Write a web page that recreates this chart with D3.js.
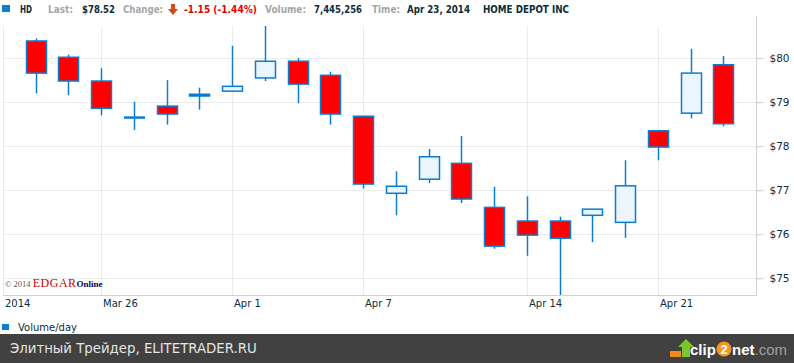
<!DOCTYPE html>
<html>
<head>
<meta charset="utf-8">
<script src="https://cdn.jsdelivr.net/npm/d3@7"></script>
<style>
  body { margin: 0; background: #fff; }
  svg { display: block; }
</style>
</head>
<body>
<div id="chart"></div>
<script>
// daily candles, HD, Mar 24 - Apr 23 2014 (no trading Apr 18)
const dates = ["Mar 24", "Mar 25", "Mar 26", "Mar 27", "Mar 28", "Mar 31", "Apr 1", "Apr 2", "Apr 3", "Apr 4",
    "Apr 7", "Apr 8", "Apr 9", "Apr 10", "Apr 11", "Apr 14", "Apr 15", "Apr 16", "Apr 17", "Apr 21", "Apr 22", "Apr 23"];
const open  = [80.39, 80.02, 79.48, 78.65, 78.91, 79.18, 79.25, 79.55, 79.93, 79.61,
    78.68, 76.93, 77.25, 77.61, 76.61, 76.30, 76.30, 76.43, 76.27, 78.35, 78.75, 79.85];
const high  = [80.45, 80.08, 79.77, 79.01, 79.50, 79.33, 80.28, 80.80, 80.00, 79.69,
    78.68, 77.43, 77.94, 78.23, 77.08, 76.86, 76.40, 76.57, 77.68, 78.35, 80.21, 80.05];
const low   = [79.20, 79.16, 78.70, 78.37, 78.49, 78.83, 79.25, 79.48, 78.98, 78.49,
    77.04, 76.43, 77.16, 76.71, 75.67, 75.51, 74.50, 75.82, 75.92, 77.68, 78.63, 78.45];
const close = [79.66, 79.48, 78.86, 78.65, 78.73, 79.14, 79.36, 79.93, 79.41, 78.73,
    77.14, 77.09, 77.76, 76.80, 75.73, 75.98, 75.91, 76.57, 77.10, 77.98, 79.66, 78.51];

const priceTicks = [75, 76, 77, 78, 79, 80];
const dateTicks = [-1, 2, 6, 10, 15, 19];
const dateTickLabels = ["2014", "Mar 26", "Apr 1", "Apr 7", "Apr 14", "Apr 21"];

const headerText = ["HD", "Last:", "$78.52", "Change:", "-1.15 (-1.44%)", "Volume:", "7,445,256", "Time:", "Apr 23, 2014", "HOME DEPOT INC"];
const headerKind = ["value", "label", "value", "label", "down", "label", "value", "label", "value", "value"];

// header layout (left edge, width) as measured on the original strip
const headerX = [20, 48, 82, 123, 184, 265, 314, 372, 407, 483];
const headerW = [12, 25, 33, 40, 73, 41, 48, 28, 63, 86];
const kindColor = { value: "#0d2d3a", label: "#a6a6a6", down: "#e60000" };

const W = 794, H = 363;
const blue = "#0b7dd0";

let svg = d3.select("#chart").append("svg")
    .attr("width", W)
    .attr("height", H);

// plot area
let plot = { left: 3, right: 756, top: 26, bottom: 295 };

let x = d3.scaleLinear()
    .domain([-1, dates.length])
    .range([plot.left, plot.right]);

let y = d3.scaleLinear()
    .domain([74.62, 80.73])
    .range([plot.bottom, plot.top]);

svg.append("defs").append("clipPath")
    .attr("id", "plotclip")
    .append("rect")
    .attr("x", plot.left)
    .attr("y", plot.top)
    .attr("width", plot.right - plot.left)
    .attr("height", plot.bottom - plot.top);

// header line
svg.append("rect")
    .attr("x", 2).attr("y", 5)
    .attr("width", 8).attr("height", 7)
    .attr("fill", "#0a7fd4");

svg.selectAll("text.head")
    .data(headerText)
    .enter()
    .append("text")
    .attr("class", "head")
    .attr("x", (d, i) => headerX[i])
    .attr("y", 13)
    .attr("textLength", (d, i) => headerW[i])
    .attr("lengthAdjust", "spacingAndGlyphs")
    .attr("fill", (d, i) => kindColor[headerKind[i]])
    .style("font-family", "'DejaVu Sans', Verdana, sans-serif")
    .style("font-size", "10.5px")
    .style("font-weight", "bold")
    .text(d => d);

// little red down arrow next to change
svg.append("path")
    .attr("d", "M171,4 h4 v5 h3 l-5,6 l-5,-6 h3 z")
    .attr("fill", "#d9461a");

// grid
let grid = svg.append("g");
grid.selectAll("line.h")
    .data(priceTicks)
    .enter()
    .append("line")
    .attr("x1", plot.left)
    .attr("x2", plot.right)
    .attr("y1", d => Math.round(y(d)) + 0.5)
    .attr("y2", d => Math.round(y(d)) + 0.5)
    .attr("stroke", "#ebebeb");

grid.selectAll("line.v")
    .data(dateTicks)
    .enter()
    .append("line")
    .attr("x1", d => Math.round(x(d)) + 0.5)
    .attr("x2", d => Math.round(x(d)) + 0.5)
    .attr("y1", plot.top)
    .attr("y2", plot.bottom)
    .attr("stroke", "#ebebeb");

// axes frame
svg.append("line")
    .attr("x1", plot.right + 0.5).attr("x2", plot.right + 0.5)
    .attr("y1", plot.top - 10).attr("y2", plot.bottom)
    .attr("stroke", "#cfd3d6");
svg.append("line")
    .attr("x1", plot.left).attr("x2", plot.right + 1)
    .attr("y1", plot.bottom + 0.5).attr("y2", plot.bottom + 0.5)
    .attr("stroke", "#cfd3d6");

// y axis on the right
let yAxis = svg.append("g")
    .attr("transform", "translate(" + (plot.right + 0.5) + ",0)")
    .call(d3.axisRight(y).tickValues(priceTicks).tickSize(7).tickPadding(6).tickFormat(d => "$" + d));
yAxis.select(".domain").remove();
yAxis.selectAll(".tick line").attr("stroke", "#b9d2e4");
yAxis.selectAll("text")
    .attr("fill", "#0d2d3a")
    .style("font-family", "'DejaVu Sans', Verdana, sans-serif")
    .style("font-size", "10.5px");

// x labels
svg.selectAll("text.xlab")
    .data(dateTicks)
    .enter()
    .append("text")
    .attr("class", "xlab")
    .attr("x", d => Math.round(x(d)) + 2)
    .attr("y", 307)
    .attr("fill", "#0d2d3a")
    .style("font-family", "'DejaVu Sans', Verdana, sans-serif")
    .style("font-size", "10px")
    .text((d, i) => dateTickLabels[i]);

// candles
let candles = svg.append("g")
    .attr("clip-path", "url(#plotclip)");

let idx = d3.range(dates.length);
let bw = 20;

candles.selectAll("line.wick")
    .data(idx)
    .enter()
    .append("line")
    .attr("class", "wick")
    .attr("x1", i => Math.round(x(i)) + 0.5)
    .attr("x2", i => Math.round(x(i)) + 0.5)
    .attr("y1", i => y(high[i]))
    .attr("y2", i => y(low[i]))
    .attr("stroke", blue)
    .attr("stroke-width", 1.5);

let bodies = idx.filter(i => open[i] != close[i]);
candles.selectAll("rect.body")
    .data(bodies)
    .enter()
    .append("rect")
    .attr("class", "body")
    .attr("x", i => Math.round(x(i)) + 0.5 - bw / 2)
    .attr("width", bw)
    .attr("y", i => y(Math.max(open[i], close[i])))
    .attr("height", i => Math.max(1, Math.abs(y(open[i]) - y(close[i]))))
    .attr("fill", i => close[i] < open[i] ? "#ff0000" : "#eaf5fe")
    .attr("stroke", blue)
    .attr("stroke-width", 1.5);

// doji: flat bar
candles.selectAll("line.doji")
    .data(idx.filter(i => open[i] == close[i]))
    .enter()
    .append("line")
    .attr("x1", i => Math.round(x(i)) + 0.5 - bw / 2 - 0.5)
    .attr("x2", i => Math.round(x(i)) + 0.5 + bw / 2 + 0.5)
    .attr("y1", i => y(close[i]))
    .attr("y2", i => y(close[i]))
    .attr("stroke", blue)
    .attr("stroke-width", 2.5);

// copyright mark
let cp = svg.append("text")
    .attr("x", 5)
    .attr("y", 287)
    .style("font-family", "'Liberation Serif', serif")
    .style("font-size", "8.5px");
cp.append("tspan").attr("fill", "#555").text("© 2014 ");
cp.append("tspan").attr("fill", "#cc0000").style("font-size", "12px").style("letter-spacing", "0.5px").text("EDGAR");
cp.append("tspan").attr("fill", "#000066").style("font-weight", "bold").style("font-size", "9px").text("Online");

// volume legend
svg.append("rect")
    .attr("x", 2).attr("y", 324)
    .attr("width", 7).attr("height", 6)
    .attr("fill", "#0a7fd4");
svg.append("text")
    .attr("x", 18)
    .attr("y", 331)
    .attr("fill", "#0d2d3a")
    .style("font-family", "'DejaVu Sans', Verdana, sans-serif")
    .style("font-size", "10px")
    .text("Volume/day");

// footer strip
svg.append("rect")
    .attr("x", 0).attr("y", 334)
    .attr("width", W).attr("height", H - 334)
    .attr("fill", "#414141");
svg.append("text")
    .attr("x", 10)
    .attr("y", 353)
    .attr("fill", "#e6e6e6")
    .style("font-family", "'DejaVu Sans', sans-serif")
    .style("font-size", "13.3px")
    .text("Элитный Трейдер, ELITETRADER.RU");

// clip2net logo
svg.append("path")
    .attr("d", "M678,347 l8,-8 l8,8 h-4 v10 h-8 v-10 z")
    .attr("fill", "#7cc52a");
svg.append("rect")
    .attr("x", 670).attr("y", 351).attr("width", 11).attr("height", 6)
    .attr("fill", "#f08a1c");
svg.append("text")
    .attr("x", 690)
    .attr("y", 355)
    .attr("fill", "#fff")
    .style("font-family", "'Liberation Sans', Arial, sans-serif")
    .style("font-size", "15px")
    .style("font-weight", "bold")
    .text("clip");
svg.append("circle")
    .attr("cx", 724).attr("cy", 349).attr("r", 7.5)
    .attr("fill", "#f39a1e");
svg.append("text")
    .attr("x", 724).attr("y", 354)
    .attr("text-anchor", "middle")
    .attr("fill", "#fff")
    .style("font-family", "'Liberation Sans', Arial, sans-serif")
    .style("font-size", "13px")
    .style("font-weight", "bold")
    .text("2");
let logo2 = svg.append("text")
    .attr("x", 732)
    .attr("y", 355)
    .style("font-family", "'Liberation Sans', Arial, sans-serif")
    .style("font-size", "15px")
    .style("font-weight", "bold");
logo2.append("tspan").attr("fill", "#fff").text("net");
logo2.append("tspan").attr("fill", "#a0a0a0").style("font-weight", "normal").text(".com");
</script>
</body>
</html>
